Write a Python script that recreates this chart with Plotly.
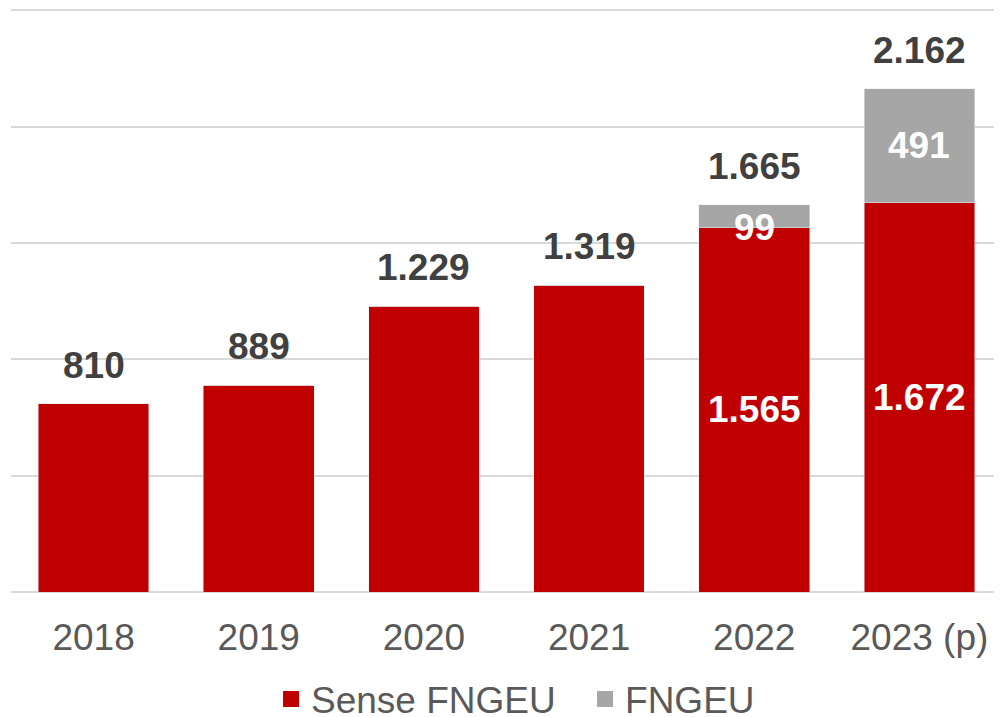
import plotly.graph_objects as go

years = ["2018", "2019", "2020", "2021", "2022", "2023 (p)"]
sense_fngeu = [810, 889, 1229, 1319, 1565, 1672]
fngeu = [0, 0, 0, 0, 99, 491]
totals = [810, 889, 1229, 1319, 1665, 2162]

RED = "#C00000"
GRAY = "#A6A6A6"
FONT = "Liberation Sans, Arial, sans-serif"
FS = 37

pos = list(range(len(years)))

def fmt(v):
    return f"{v:,}".replace(",", ".")

fig = go.Figure()
fig.add_trace(go.Bar(x=pos, y=sense_fngeu, marker_color=RED, name="Sense FNGEU",
                     showlegend=False, hoverinfo="skip"))
fig.add_trace(go.Bar(x=pos, y=fngeu, marker_color=GRAY, name="FNGEU",
                     showlegend=False, hoverinfo="skip"))
# legend entries
fig.add_trace(go.Scatter(x=[pos[0]], y=[None], mode="markers", name="Sense FNGEU",
                         marker=dict(symbol="square", size=19, color=RED)))
fig.add_trace(go.Scatter(x=[pos[0]], y=[None], mode="markers", name="FNGEU",
                         marker=dict(symbol="square", size=19, color=GRAY)))

ann = []
for i in pos:
    ann.append(dict(x=i, y=totals[i], text=f"<b>{fmt(totals[i])}</b>", showarrow=False,
                    yanchor="bottom", yshift=16, font=dict(size=FS, color="#404040", family=FONT)))
    if fngeu[i] > 0:
        ann.append(dict(x=i, y=sense_fngeu[i] / 2, text=f"<b>{fmt(sense_fngeu[i])}</b>", showarrow=False,
                        yanchor="middle", font=dict(size=FS, color="white", family=FONT)))
        ymid = sense_fngeu[i] + fngeu[i] / 2 if fngeu[i] > 200 else sense_fngeu[i]
        ann.append(dict(x=i, y=ymid, text=f"<b>{fmt(fngeu[i])}</b>", showarrow=False,
                        yanchor="middle", font=dict(size=FS, color="white", family=FONT)))

fig.update_layout(
    width=994, height=709,
    margin=dict(l=3, r=0, t=0, b=125, autoexpand=False),
    barmode="stack", bargap=0.33,
    plot_bgcolor="white", paper_bgcolor="white",
    font=dict(family=FONT, size=FS, color="#595959"),
    annotations=ann,
    legend=dict(orientation="h", x=0.2624, xanchor="left", y=-0.184, yanchor="middle",
                traceorder="normal",
                font=dict(size=FS, color="#595959"), entrywidth=269, entrywidthmode="pixels",
                bgcolor="rgba(0,0,0,0)"),
    xaxis=dict(range=[-0.5, len(years) - 0.5], tickmode="array", tickvals=pos, ticktext=years,
               showgrid=False, showline=False, zeroline=False, ticks="", ticklabelstandoff=20,
               tickfont=dict(size=FS, color="#595959")),
    yaxis=dict(range=[0, 2510], tickmode="array", tickvals=[0, 500, 1000, 1500, 2000, 2500],
               showticklabels=False, showgrid=True,
               gridcolor="#D9D9D9", gridwidth=1.5, zeroline=True, zerolinecolor="#D9D9D9",
               zerolinewidth=1.5, showline=False),
)
fig.write_html("out.html")
